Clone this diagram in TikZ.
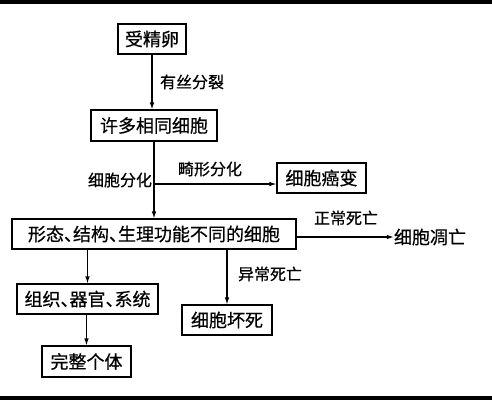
\documentclass[tikz,border=0pt]{standalone}
\usepackage{fontspec}
\setmainfont{Noto Sans CJK SC}[FakeBold=0.6]
\usetikzlibrary{arrows.meta}
\newcommand{\dunhao}{\makebox[0.5em][l]{、}}
\tikzset{
  x=1pt,y=-1pt,
  box/.style={draw,line width=1.1pt,inner sep=0pt,font=\fontsize{18}{20}\selectfont,anchor=center},
  lbl/.style={inner sep=0pt,font=\fontsize{16}{18}\selectfont,anchor=center},
  arr/.style={line width=1.1pt,-{Latex[length=7pt,width=4.5pt]}}
}
\begin{document}
\begin{tikzpicture}
\useasboundingbox (0,0) rectangle (492,400);
\fill[black] (0,0) rectangle (492,4);
\fill[black] (0,396) rectangle (492,400);
\node[box,minimum width=68pt,minimum height=30pt] (egg) at (152,39) {受精卵};
\node[box,minimum width=126pt,minimum height=31pt] (many) at (154,125.5) {许多相同细胞};
\node[box,minimum width=89pt,minimum height=30pt] (cancer) at (321.5,178) {细胞癌变};
\node[box,minimum width=284pt,minimum height=30pt] (big) at (154,234) {形态\dunhao 结构\dunhao 生理功能不同的细胞};
\node[lbl,font=\fontsize{18}{20}\selectfont] (apo) at (430,237) {细胞凋亡};
\node[box,minimum width=141pt,minimum height=30pt] (tissue) at (87.5,299) {组织\dunhao 器官\dunhao 系统};
\node[box,minimum width=89pt,minimum height=31pt] (whole) at (86.5,361.5) {完整个体};
\node[box,minimum width=90pt,minimum height=30pt] (necro) at (227,320) {细胞坏死};
\coordinate (br) at (154,184);
\node[lbl] (l1) at (192,82) {有丝分裂};
\node[lbl] (l2) at (120,180) {细胞分化};
\node[lbl] (l3) at (210,169) {畸形分化};
\node[lbl] (l4) at (346,218) {正常死亡};
\node[lbl] (l5) at (270,274) {异常死亡};
\draw[arr] (egg.south) -- (egg.south |- many.north);
\draw[arr] (many.south) -- (big.north);
\draw[arr] (br) -- (br -| cancer.west);
\draw[arr] (big.east |- apo) -- (apo.west);
\draw[arr] (big.south -| tissue) -- (tissue.north);
\draw[arr] (tissue.south -| whole) -- (whole.north);
\draw[arr] (big.south -| necro) -- (necro.north);
\end{tikzpicture}
\end{document}
